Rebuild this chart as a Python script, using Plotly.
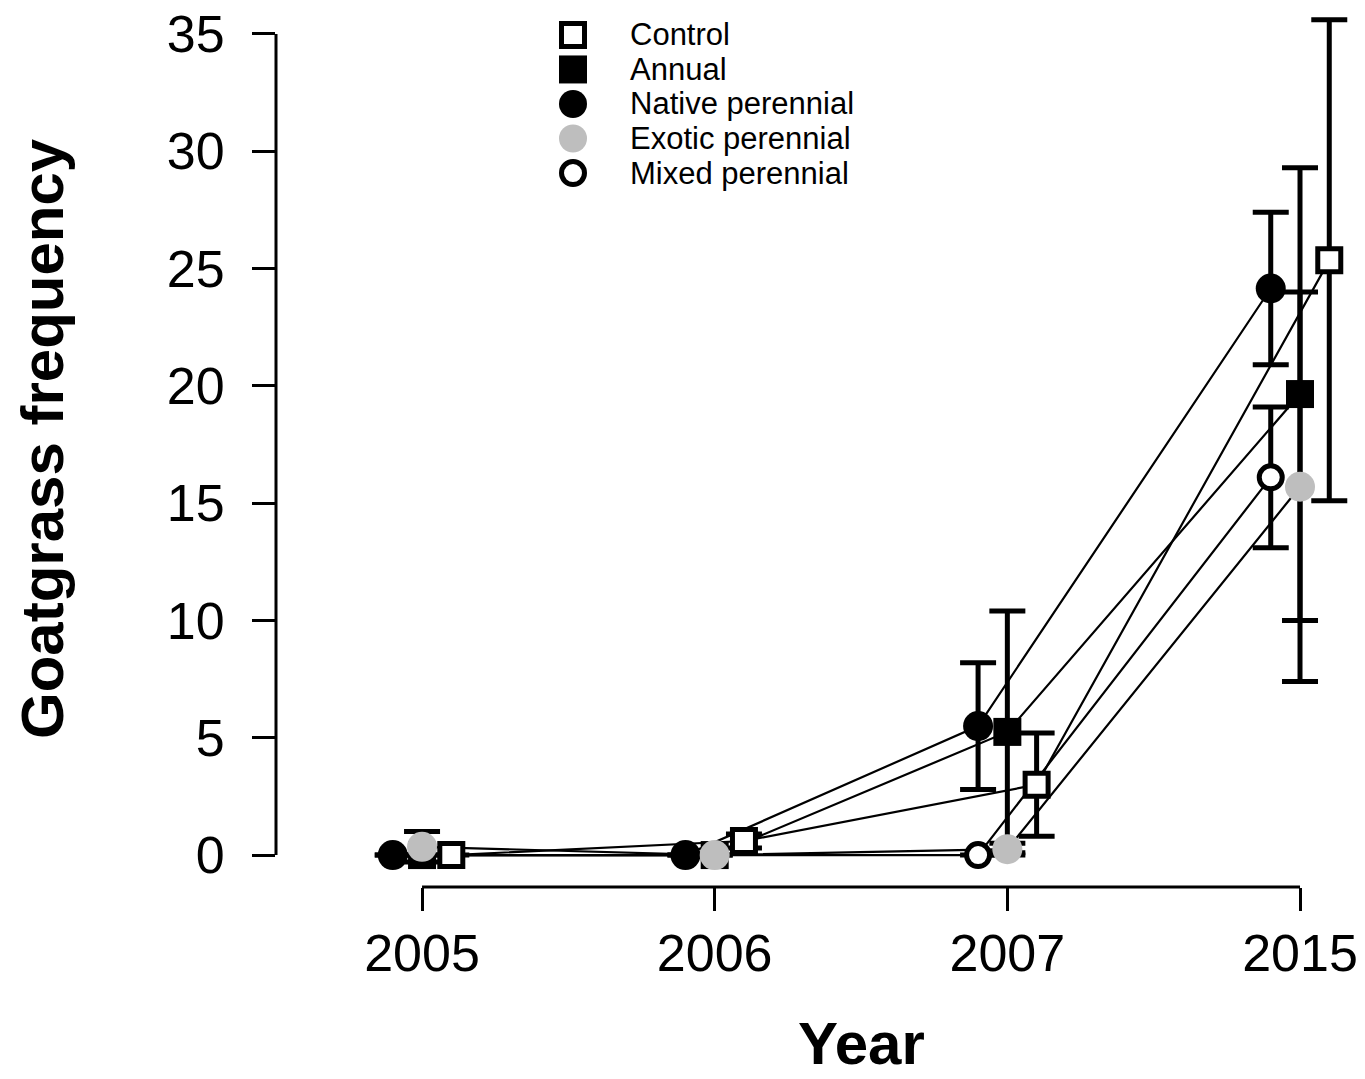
import plotly.graph_objects as go

years = ["2005", "2006", "2007", "2015"]
series = ["Control", "Annual", "Native perennial", "Exotic perennial", "Mixed perennial"]

control = [0.0, 0.6, 3.0, 25.35]
control_err = [0.0, 0.3, 2.2, 10.25]
annual = [0.0, 0.0, 5.25, 19.65]
annual_err = [0.0, 0.0, 5.15, 9.65]
native = [0.0, 0.0, 5.5, 24.15]
native_err = [0.0, 0.0, 2.7, 3.25]
exotic = [0.35, 0.0, 0.25, 15.7]
exotic_err = [0.65, 0.0, 0.25, 8.3]
mixed = [0.0, 0.0, 0.0, 16.1]
mixed_err = [0.0, 0.0, 0.0, 3.0]

values = [control, annual, native, exotic, mixed]
errors = [control_err, annual_err, native_err, exotic_err, mixed_err]
offsets = [0.1, 0.0, -0.1, 0.0, -0.1]
draw_order = [0, 1, 4, 2, 3]  # mixed drawn beneath native, exotic on top
GRAY = "#BEBEBE"
styles = [
    dict(symbol="square", size=23, color="white", line=dict(color="black", width=5)),
    dict(symbol="square", size=28, color="black", line=dict(color="black", width=0)),
    dict(symbol="circle", size=30, color="black", line=dict(color="black", width=0)),
    dict(symbol="circle", size=30, color=GRAY, line=dict(color=GRAY, width=0)),
    dict(symbol="circle", size=23, color="white", line=dict(color="black", width=5)),
]

FONT = "Liberation Sans, Arial, sans-serif"
W, H = 1365, 1079
L, R, T, B = 276, 5, 5, 192
PW, PH = W - L - R, H - T - B

fig = go.Figure()

xs_all = []
for vals, off in zip(values, offsets):
    xs_all.append([i + 1 + off for i in range(len(years))])

# connecting lines first (under all markers)
for name, xs, vals in zip(series, xs_all, values):
    fig.add_trace(go.Scatter(x=xs, y=vals, mode="lines", showlegend=False,
                             line=dict(color="black", width=2.2), hoverinfo="skip"))

# markers with error bars
for k in draw_order:
    fig.add_trace(go.Scatter(
        x=xs_all[k], y=values[k], mode="markers", name=series[k], showlegend=False,
        marker=styles[k],
        error_y=dict(type="data", array=errors[k], visible=True, color="black",
                     thickness=5, width=18),
    ))

# axis lines (R-style, spanning only tick range)
fig.add_shape(type="line", xref="x", yref="paper", x0=1, x1=len(years), y0=0, y1=0,
              line=dict(color="black", width=3))
fig.add_shape(type="line", xref="paper", yref="y", x0=0, x1=0, y0=0, y1=35,
              line=dict(color="black", width=3))

# custom legend
leg_x_sym = (573 - L) / PW
leg_x_txt = (628 - L) / PW
for i, (name, st) in enumerate(zip(series, styles)):
    ypx = 33 + 34.6 * i
    yp = (H - B - ypx) / PH
    filled = st["color"] != "white"
    half = 14 if filled else 11.5
    shp = "rect" if st["symbol"] == "square" else "circle"
    fig.add_shape(type=shp, xref="paper", yref="paper",
                  xsizemode="pixel", ysizemode="pixel",
                  xanchor=leg_x_sym, yanchor=yp,
                  x0=-half, x1=half, y0=-half, y1=half,
                  fillcolor=st["color"],
                  line=dict(color="black" if not filled else st["color"],
                            width=0 if filled else 5))
    fig.add_annotation(text=name, xref="paper", yref="paper", x=leg_x_txt, y=yp,
                       xanchor="left", yanchor="middle", showarrow=False,
                       font=dict(family=FONT, size=31, color="black"))

# axis titles
fig.add_annotation(text="<b>Goatgrass frequency</b>", xref="paper", yref="paper",
                   x=0, y=(H - B - 438) / PH, xshift=-(L - 42), xanchor="center",
                   yanchor="middle", textangle=-90, showarrow=False,
                   font=dict(family=FONT, size=60, color="black"))
fig.add_annotation(text="<b>Year</b>", xref="x", yref="paper",
                   x=2.5, y=0, yshift=-(1043 - (H - B)), xanchor="center",
                   yanchor="middle", showarrow=False,
                   font=dict(family=FONT, size=60, color="black"))

# y scale: 0 at y 855, 35 at y 32
ppu = (855 - 32) / 35.0
y_top = 35 + (32 - T) / ppu
y_bot = -((H - B - 855) / ppu)

fig.update_layout(
    width=W, height=H,
    margin=dict(l=L, r=R, t=T, b=B, pad=0),
    paper_bgcolor="white", plot_bgcolor="white",
    showlegend=False,
    xaxis=dict(range=[0.501, 4.205], tickvals=[1, 2, 3, 4], ticktext=years,
               showgrid=False, zeroline=False, showline=False,
               ticks="outside", ticklen=23, tickwidth=3, tickcolor="black",
               tickfont=dict(family=FONT, size=52, color="black"),
               ticklabelstandoff=-2),
    yaxis=dict(range=[y_bot, y_top], tickvals=[0, 5, 10, 15, 20, 25, 30, 35],
               showgrid=False, zeroline=False, showline=False,
               ticks="outside", ticklen=23, tickwidth=3, tickcolor="black",
               tickfont=dict(family=FONT, size=52, color="black"),
               ticklabelstandoff=17),
)

fig.write_html("out.html", config={"displayModeBar": False},
               post_script="document.body.style.margin='0';")
